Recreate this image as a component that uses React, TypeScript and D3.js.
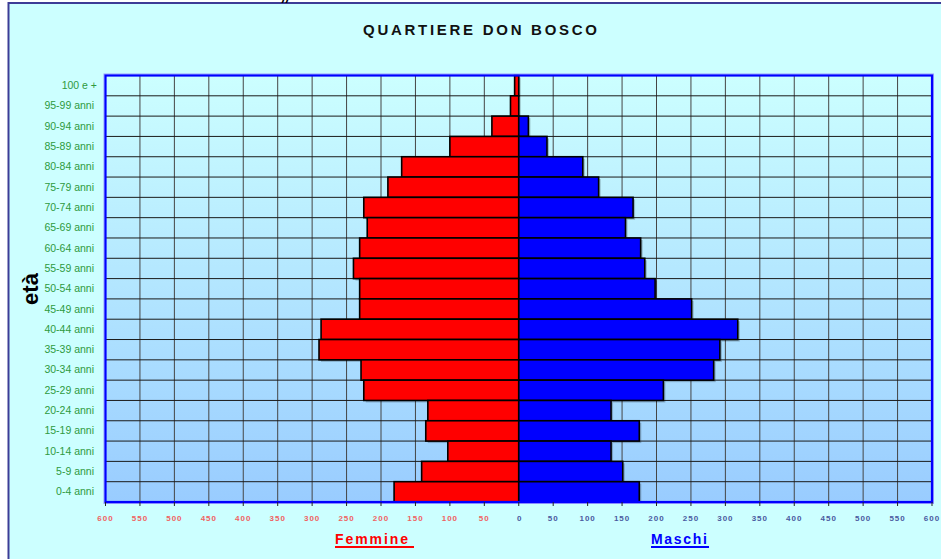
import * as d3 from "d3";

const ages = [
  "100 e +", "95-99 anni", "90-94 anni", "85-89 anni", "80-84 anni", "75-79 anni",
  "70-74 anni", "65-69 anni", "60-64 anni", "55-59 anni", "50-54 anni", "45-49 anni",
  "40-44 anni", "35-39 anni", "30-34 anni", "25-29 anni", "20-24 anni", "15-19 anni",
  "10-14 anni", "5-9 anni", "0-4 anni",
];
const femmine = [6, 12, 39, 100, 170, 190, 225, 220, 231, 240, 231, 231, 287, 290, 229, 225, 132, 135, 103, 141, 181];
const maschi = [0, 0, 14, 41, 93, 116, 166, 155, 177, 183, 198, 251, 318, 292, 283, 210, 134, 175, 134, 151, 175];
const leftTicks = [600, 550, 500, 450, 400, 350, 300, 250, 200, 150, 100, 50];
const rightTicks = [0, 50, 100, 150, 200, 250, 300, 350, 400, 450, 500, 550, 600];

const W = 941;
const H = 559;
const plot = { left: 105.5, right: 932, top: 75.5, bottom: 502 };

export default function App() {
  const x = d3.scaleLinear().domain([-600, 600]).range([plot.left, plot.right]);
  const y = d3.scaleBand().domain(ages).range([plot.top, plot.bottom]).padding(0);
  const grid = d3.range(-600, 601, 50);
  const font = "Arial, 'Liberation Sans', sans-serif";

  return (
    <svg width={W} height={H} style={{ position: "absolute", left: 0, top: 0, display: "block" }} fontFamily={font}>
      <defs>
        <linearGradient id="bg" x1="0" y1="0" x2="0" y2="1">
          <stop offset="0" stopColor="#ccffff" />
          <stop offset="1" stopColor="#99ccff" />
        </linearGradient>
      </defs>
      <rect x={0} y={0} width={W} height={H} fill="#ffffff" />
      <rect x={8.5} y={3} width={W} height={H} fill="#ccffff" stroke="#3c3c96" strokeWidth={2} />
      <text x={286} y={3} fontSize={14} fontWeight="bold" fontStyle="italic" textAnchor="middle">//</text>

      <text x={480} y={34.5} fontSize={15} fontWeight="bold" textAnchor="middle" textLength={234} lengthAdjust="spacing" fill="#111">
        QUARTIERE DON BOSCO
      </text>

      {/* plot area */}
      <rect x={plot.left} y={plot.top} width={plot.right - plot.left} height={plot.bottom - plot.top} fill="url(#bg)" />
      {grid.map((g) => (
        <line key={"v" + g} x1={x(g)} x2={x(g)} y1={plot.top} y2={plot.bottom} stroke="#454545" strokeWidth={1} />
      ))}
      {ages.map((a) => (
        <line key={"h" + a} x1={plot.left} x2={plot.right} y1={y(a)!} y2={y(a)!} stroke="#1a1a1a" strokeWidth={1} />
      ))}

      {/* bars shadows */}
      {ages.map((a, i) => (
        <g key={"s" + a} fill="#000" opacity={0.22}>
          {femmine[i] > 0 && (
            <rect x={x(-femmine[i]) + 2} y={y(a)! + 2} width={x(0) - x(-femmine[i])} height={y.bandwidth()} />
          )}
          {maschi[i] > 0 && (
            <rect x={x(0) + 2} y={y(a)! + 2} width={x(maschi[i]) - x(0)} height={y.bandwidth()} />
          )}
        </g>
      ))}
      {ages.map((a, i) => (
        <g key={"b" + a} stroke="#000" strokeWidth={1.6}>
          {femmine[i] > 0 && (
            <rect x={x(-femmine[i])} y={y(a)!} width={x(0) - x(-femmine[i])} height={y.bandwidth()} fill="#ff0000" />
          )}
          {maschi[i] > 0 && (
            <rect x={x(0)} y={y(a)!} width={x(maschi[i]) - x(0)} height={y.bandwidth()} fill="#0000ff" />
          )}
        </g>
      ))}

      {/* border */}
      <rect x={plot.left - 1.5} y={plot.top - 1.5} width={plot.right - plot.left + 3} height={plot.bottom - plot.top + 3} fill="none" stroke="#9999ff" strokeWidth={1} />
      <rect x={plot.left} y={plot.top} width={plot.right - plot.left} height={plot.bottom - plot.top} fill="none" stroke="#0000ff" strokeWidth={2.2} />

      {/* y labels */}
      {ages.map((a) => (
        <text key={"l" + a} x={a === "100 e +" ? 97 : 94} y={y(a)! + y.bandwidth() / 2 + 3.5} fontSize={10.5} textAnchor="end" fill="#2e9a3e">
          {a}
        </text>
      ))}
      <text transform="translate(38,289) rotate(-90)" fontSize={22} fontWeight="bold" textAnchor="middle" fill="#000">età</text>

      {/* x ticks */}
      {grid.map((g) => (
        <line key={"t" + g} x1={x(g)} x2={x(g)} y1={plot.bottom} y2={plot.bottom + 4} stroke="#222" strokeWidth={1} />
      ))}
      {leftTicks.map((t) => (
        <text key={"lt" + t} x={x(-t)} y={521} fontSize={8} fontWeight="bold" letterSpacing={1} textAnchor="middle" fill="#f06262">
          {t}
        </text>
      ))}
      {rightTicks.map((t) => (
        <text key={"rt" + t} x={x(t) + (t === 0 ? 1 : 0)} y={521} fontSize={8} fontWeight="bold" letterSpacing={1} textAnchor="middle" fill="#4a5aa0">
          {t}
        </text>
      ))}

      {/* legend */}
      <text x={335} y={544} fontSize={14} fontWeight="bold" fill="#ff0000" textLength={73} lengthAdjust="spacing">Femmine</text>
      <line x1={335} x2={414} y1={547} y2={547} stroke="#ff0000" strokeWidth={2} />
      <text x={651} y={544} fontSize={14} fontWeight="bold" fill="#0000ff" textLength={56} lengthAdjust="spacing">Maschi</text>
      <line x1={651} x2={709} y1={547} y2={547} stroke="#0000ff" strokeWidth={2} />
    </svg>
  );
}
